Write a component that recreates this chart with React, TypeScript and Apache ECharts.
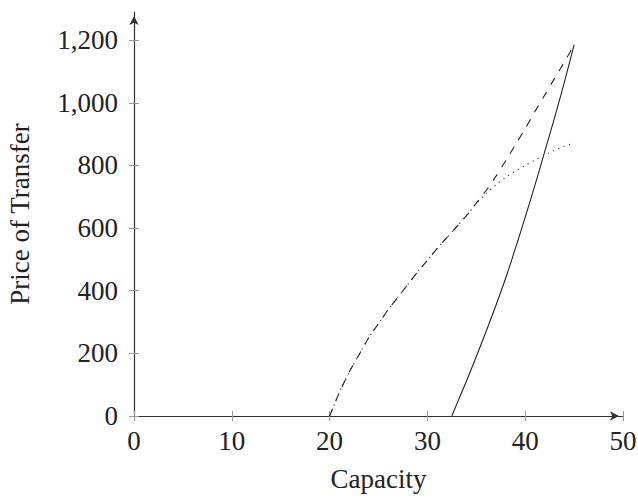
import React, { useEffect, useRef } from "react";
import * as echarts from "echarts";

const xTicks = [0, 10, 20, 30, 40, 50];
const yTicks = [0, 200, 400, 600, 800, 1000, 1200];

// Dotted curve
const dottedX = [20, 21, 22, 23, 24, 25, 26, 27, 28, 29, 30, 31, 32, 33, 34, 35, 36, 37, 38, 39, 40, 41, 42, 43, 44, 45];
const dottedY = [0, 75, 140, 195, 250, 295, 340, 380, 420, 460, 497, 535, 570, 605, 640, 678, 710, 738, 762, 782, 800, 817, 833, 848, 861, 872];

// Dashed curve
const dashedX = [20, 21, 22, 23, 24, 25, 26, 27, 28, 29, 30, 31, 32, 33, 34, 35, 36, 37, 38, 39, 40, 41, 42, 43, 44, 45];
const dashedY = [0, 75, 140, 195, 250, 295, 340, 380, 420, 460, 497, 535, 570, 605, 640, 680, 720, 765, 815, 866, 918, 972, 1025, 1078, 1130, 1185];

// Solid curve
const solidX = [32.5, 33, 34, 35, 36, 37, 38, 39, 40, 41, 42, 43, 44, 45];
const solidY = [0, 38, 112, 190, 270, 353, 440, 535, 635, 737, 845, 952, 1065, 1185];

const pairs = (xs: number[], ys: number[]) => xs.map((x, i) => [x, ys[i]]);

const FONT = "'Liberation Serif', 'DejaVu Serif', serif";

export default function App() {
  const ref = useRef<HTMLDivElement>(null);
  useEffect(() => {
    document.body.style.margin = "0";
    const chart = echarts.init(ref.current!, null, { renderer: "svg" });
    const tickColor = "#9a9a9a";
    const axisColor = "#333";
    chart.setOption({
      animation: false,
      grid: { left: 134, right: 15, top: 12, bottom: 84, containLabel: false, outerBoundsMode: "none" },
      xAxis: [
        {
          type: "value",
          min: 0,
          max: 50,
          position: "bottom",
          name: "Capacity",
          nameLocation: "middle",
          nameGap: 49,
          nameTextStyle: { fontFamily: FONT, fontSize: 27, color: "#222" },
          axisLine: {
            show: true,
            lineStyle: { color: axisColor, width: 1.2 },
            symbol: ["none", "arrow"],
            symbolSize: [7, 9],
            symbolOffset: [0, -4],
          },
          axisTick: { show: true, length: 5, inside: false, lineStyle: { color: tickColor }, customValues: xTicks },
          axisLabel: { fontFamily: FONT, fontSize: 27, color: "#222", margin: 11, customValues: xTicks },
          splitLine: { show: false },
        },
        {
          type: "value",
          min: 0,
          max: 50,
          position: "bottom",
          axisLine: { show: false },
          axisTick: { show: true, length: 5, inside: true, lineStyle: { color: tickColor }, customValues: xTicks },
          axisLabel: { show: false },
          splitLine: { show: false },
        },
      ],
      yAxis: [
        {
          type: "value",
          min: 0,
          max: 1290,
          position: "left",
          name: "Price of Transfer",
          nameLocation: "middle",
          nameGap: 101,
          nameRotate: 90,
          nameTextStyle: { fontFamily: FONT, fontSize: 27, color: "#222" },
          axisLine: {
            show: true,
            lineStyle: { color: axisColor, width: 1.2 },
            symbol: ["none", "arrow"],
            symbolSize: [7, 9],
            symbolOffset: [0, -4],
          },
          axisTick: { show: true, length: 5, inside: false, lineStyle: { color: tickColor }, customValues: yTicks },
          axisLabel: {
            fontFamily: FONT,
            fontSize: 27,
            color: "#222",
            margin: 16,
            customValues: yTicks,
            formatter: (v: number) => v.toLocaleString("en-US"),
          },
          splitLine: { show: false },
        },
        {
          type: "value",
          min: 0,
          max: 1290,
          position: "left",
          axisLine: { show: false },
          axisTick: { show: true, length: 5, inside: true, lineStyle: { color: tickColor }, customValues: yTicks },
          axisLabel: { show: false },
          splitLine: { show: false },
        },
      ],
      series: [
        {
          type: "line",
          name: "dotted",
          data: pairs(dottedX, dottedY),
          showSymbol: false,
          smooth: 0.3,
          lineStyle: { color: "#333", width: 1.1, type: [1.2, 4.5] },
        },
        {
          type: "line",
          name: "dashed",
          data: pairs(dashedX, dashedY),
          showSymbol: false,
          smooth: 0.3,
          lineStyle: { color: "#222", width: 1.1, type: [8, 8] },
        },
        {
          type: "line",
          name: "solid",
          data: pairs(solidX, solidY),
          showSymbol: false,
          smooth: 0.3,
          lineStyle: { color: "#222", width: 1.1, type: "solid" },
        },
      ],
    });
    return () => chart.dispose();
  }, []);
  return <div ref={ref} style={{ width: 638, height: 500 }} />;
}
